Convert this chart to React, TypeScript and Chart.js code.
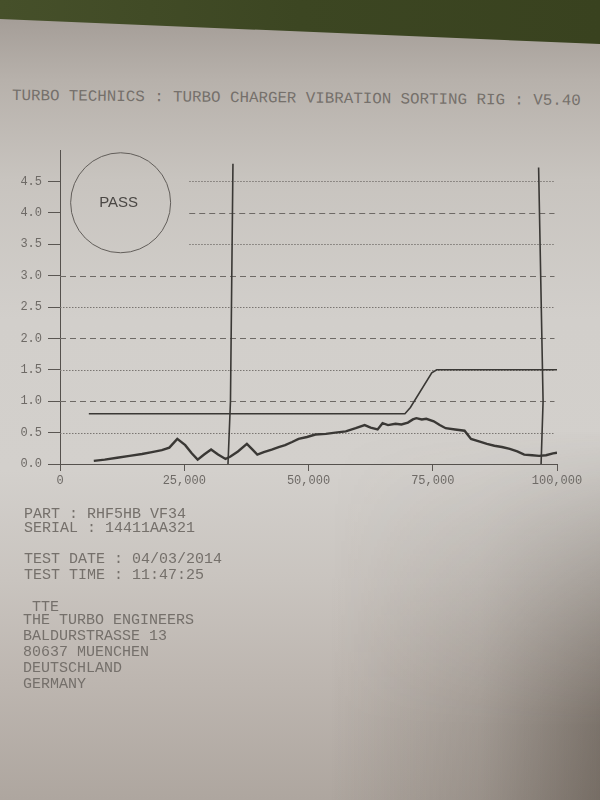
import React, { useEffect, useRef } from "react";
import { Chart, registerables } from "chart.js";

Chart.register(...registerables);

// Vibration trace (rpm vs amplitude)
const vibRpm = [6800, 9000, 11500, 14000, 16500, 18500, 20500, 22000, 23600, 25200, 26500, 27700, 29000, 30400, 31800, 33300, 34300, 35800, 37600, 38600, 39700, 41000, 42600, 44000, 45300, 46700, 48000, 49700, 51400, 53500, 55400, 57500, 59500, 61300, 62500, 63900, 64900, 66000, 67500, 68700, 70000, 71000, 71700, 72800, 73700, 75200, 76400, 77600, 79500, 81400, 82700, 84300, 85900, 87400, 88900, 90500, 92000, 93400, 95000, 96400, 97800, 99200, 100000];
const vibAmp = [0.05, 0.07, 0.1, 0.13, 0.16, 0.19, 0.22, 0.26, 0.4, 0.3, 0.17, 0.07, 0.15, 0.23, 0.15, 0.08, 0.12, 0.2, 0.32, 0.24, 0.15, 0.19, 0.23, 0.27, 0.3, 0.35, 0.4, 0.43, 0.47, 0.48, 0.5, 0.52, 0.57, 0.62, 0.58, 0.55, 0.65, 0.62, 0.64, 0.63, 0.66, 0.71, 0.73, 0.71, 0.72, 0.68, 0.62, 0.57, 0.55, 0.53, 0.4, 0.36, 0.32, 0.29, 0.27, 0.24, 0.2, 0.15, 0.14, 0.13, 0.14, 0.17, 0.18];

// Limit line
const limitRpm = [5800, 69400, 70500, 74800, 75800, 100000];
const limitAmp = [0.8, 0.8, 0.9, 1.45, 1.5, 1.5];

// Vertical markers
const marker1Rpm = [33800, 34300, 34800];
const marker1Amp = [0, 1.0, 4.78];
const marker2Rpm = [96800, 97200, 96300];
const marker2Amp = [0, 1.0, 4.72];

// Grid lines
const gridValues = [0.5, 1.0, 1.5, 2.0, 2.5, 3.0, 3.5, 4.0, 4.5];
const gridStyles = ["dotted", "dashed", "dotted", "dashed", "dotted", "dashed", "dotted", "dashed", "dotted"];
const gridStartRpm = [0, 0, 0, 0, 0, 0, 26000, 26000, 26000];
const gridEndRpm = 99500;

const passCenterRpm = 12200;
const passCenterAmp = 4.16;
const passLabel = "PASS";

const title = "TURBO TECHNICS : TURBO CHARGER VIBRATION SORTING RIG : V5.40";

const ink = "#3a3835";

const pts = (xs: number[], ys: number[]) => xs.map((x, i) => ({ x, y: ys[i] }));

const paperPlugin = {
  id: "paperGrid",
  beforeDatasetsDraw(chart: any) {
    const { ctx, scales } = chart;
    const x = scales.x;
    const y = scales.y;
    ctx.save();
    gridValues.forEach((v, i) => {
      const py = Math.round(y.getPixelForValue(v)) + 0.5;
      ctx.beginPath();
      ctx.setLineDash(gridStyles[i] === "dashed" ? [6, 4] : [1.5, 1.5]);
      ctx.strokeStyle = gridStyles[i] === "dashed" ? "#6e6a66" : "#7a7672";
      ctx.lineWidth = 1;
      ctx.moveTo(x.getPixelForValue(gridStartRpm[i]), py);
      ctx.lineTo(x.getPixelForValue(gridEndRpm), py);
      ctx.stroke();
    });
    ctx.setLineDash([]);
    const cx = x.getPixelForValue(passCenterRpm);
    const cy = y.getPixelForValue(passCenterAmp);
    ctx.beginPath();
    ctx.strokeStyle = "#625e5a";
    ctx.lineWidth = 1;
    ctx.arc(cx, cy, 50, 0, Math.PI * 2);
    ctx.stroke();
    ctx.fillStyle = "#4a4744";
    ctx.font = "15px 'Liberation Sans', Arial, sans-serif";
    ctx.textAlign = "center";
    ctx.textBaseline = "middle";
    ctx.fillText(passLabel, cx - 2, cy);
    ctx.restore();
  },
};

function ChartCanvas() {
  const ref = useRef<HTMLCanvasElement | null>(null);
  useEffect(() => {
    if (!ref.current) return;
    const mono = "'Liberation Mono', 'DejaVu Sans Mono', monospace";
    const chart = new Chart(ref.current, {
      type: "scatter",
      data: {
        datasets: [
          { data: pts(vibRpm, vibAmp), showLine: true, borderColor: ink, borderWidth: 2.4, pointRadius: 0, tension: 0 },
          { data: pts(limitRpm, limitAmp), showLine: true, borderColor: ink, borderWidth: 1.6, pointRadius: 0 },
          { data: pts(marker1Rpm, marker1Amp), showLine: true, borderColor: ink, borderWidth: 1.6, pointRadius: 0 },
          { data: pts(marker2Rpm, marker2Amp), showLine: true, borderColor: ink, borderWidth: 1.6, pointRadius: 0 },
        ],
      },
      options: {
        responsive: false,
        animation: false,
        layout: { padding: { top: 150, right: 43, left: 0, bottom: 0 } },
        plugins: { legend: { display: false }, tooltip: { enabled: false }, title: { display: false } },
        scales: {
          x: {
            type: "linear",
            min: 0,
            max: 100000,
            afterFit: (s: any) => {
              s.height = 336;
            },
            grid: { drawOnChartArea: false, drawTicks: true, tickLength: 7, tickColor: "#5a5652", tickWidth: 1 },
            border: { display: true, color: "#55514d", width: 1 },
            ticks: {
              stepSize: 25000,
              color: "#6e6a66",
              padding: 3,
              maxRotation: 0,
              font: { family: mono, size: 12 },
              callback: (v: any) => Number(v).toLocaleString("en-US"),
            },
          },
          y: {
            type: "linear",
            min: 0,
            max: 5,
            afterFit: (s: any) => {
              s.width = 60;
            },
            grid: {
              drawOnChartArea: false,
              drawTicks: true,
              tickLength: 12,
              tickWidth: 1,
              tickColor: (c: any) => (c.tick && c.tick.value === 5 ? "rgba(0,0,0,0)" : "#5a5652"),
            },
            border: { display: true, color: "#55514d", width: 1 },
            ticks: {
              stepSize: 0.5,
              color: "#6e6a66",
              padding: 6,
              font: { family: mono, size: 12 },
              callback: (v: any) => (Number(v) >= 5 ? "" : Number(v).toFixed(1)),
            },
          },
        },
      },
      plugins: [paperPlugin],
    } as any);
    return () => chart.destroy();
  }, []);
  return <canvas ref={ref} width={600} height={800} style={{ position: "absolute", left: 0, top: 0 }} />;
}

const textStyle: React.CSSProperties = {
  position: "absolute",
  fontFamily: "'Liberation Mono', 'DejaVu Sans Mono', monospace",
  fontSize: "15px",
  lineHeight: "16px",
  color: "#75706b",
  whiteSpace: "pre",
  margin: 0,
};

export default function App() {
  return (
    <div
      style={{
        position: "fixed",
        left: 0,
        top: 0,
        width: 600,
        height: 800,
        overflow: "hidden",
        background:
          "linear-gradient(to bottom, #a59e98 20px, #b7b1ab 80px, #c8c4bf 180px, #d2cfcb 320px, #d3d0cc 470px, #c9c4bf 580px, #bdb6b0 680px, #aea69f 800px)",
      }}
    >
      <div
        style={{
          position: "absolute",
          left: 0,
          top: 0,
          width: 600,
          height: 48,
          background: "linear-gradient(to right, #46502a, #3c4622 50%, #39421f)",
          clipPath: "polygon(0 0, 600px 0, 600px 44px, 0 19px)",
        }}
      />
      <div
        style={{
          position: "absolute",
          left: 0,
          top: 430,
          width: 600,
          height: 370,
          background: "linear-gradient(to right, rgba(60,50,40,0) 55%, rgba(60,50,40,0.18) 80%, rgba(50,40,30,0.45) 100%)",
          WebkitMaskImage: "linear-gradient(to bottom, transparent, black 80%)",
          maskImage: "linear-gradient(to bottom, transparent, black 80%)",
        }}
      />
      <div style={{ ...textStyle, left: 12, top: 88, fontSize: "15.8px", transform: "rotate(0.5deg)", transformOrigin: "left center" }}>
        {title}
      </div>
      <ChartCanvas />
      <div style={{ ...textStyle, left: 24, top: 507 }}>PART : RHF5HB VF34</div>
      <div style={{ ...textStyle, left: 24, top: 521 }}>SERIAL : 14411AA321</div>
      <div style={{ ...textStyle, left: 24, top: 552 }}>TEST DATE : 04/03/2014</div>
      <div style={{ ...textStyle, left: 24, top: 568 }}>TEST TIME : 11:47:25</div>
      <div style={{ ...textStyle, left: 32, top: 600 }}>TTE</div>
      <div style={{ ...textStyle, left: 23, top: 613 }}>THE TURBO ENGINEERS</div>
      <div style={{ ...textStyle, left: 23, top: 629 }}>BALDURSTRASSE 13</div>
      <div style={{ ...textStyle, left: 23, top: 645 }}>80637 MUENCHEN</div>
      <div style={{ ...textStyle, left: 23, top: 661 }}>DEUTSCHLAND</div>
      <div style={{ ...textStyle, left: 23, top: 677 }}>GERMANY</div>
    </div>
  );
}
